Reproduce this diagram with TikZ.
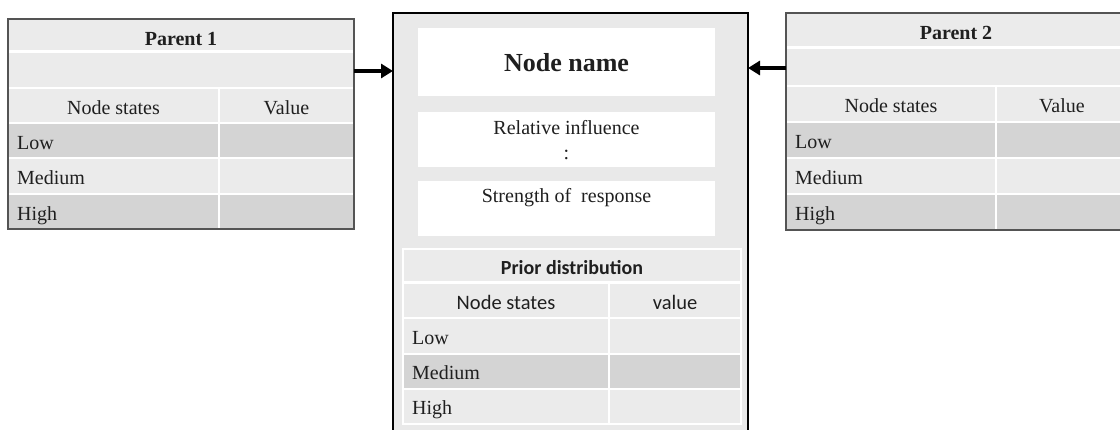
\documentclass[tikz,border=0pt]{standalone}
\usepackage{fontspec}
\setmainfont{Liberation Serif}
\newfontfamily\calib{Carlito}
\usetikzlibrary{arrows.meta,calc}
\definecolor{lg}{gray}{0.922}
\definecolor{dg}{gray}{0.83}
\definecolor{bgc}{gray}{0.915}
\definecolor{ink}{gray}{0.12}
\definecolor{pb}{gray}{0.33}
\newcommand\tcell[6]{\node[cell,fill=#6,minimum width={(#4)-(#2)},minimum height={(#5)-(#3)},anchor=north west] (#1) at (#2,#3) {};}
\begin{document}
\begin{tikzpicture}[x=1pt,y=-1pt,
  cell/.style={draw=white,line width=1.6pt,inner sep=0pt,outer sep=0pt},
  wbox/.style={fill=white,draw=none,inner sep=0pt,outer sep=0pt,anchor=north west},
  txt/.style={text=ink,inner sep=0pt,anchor=base,font=\fontsize{20}{24}\selectfont},
  ltxt/.style={txt,anchor=base west},
  btxt/.style={txt,font=\fontsize{20}{24}\selectfont\bfseries},
  stxt/.style={txt,font=\fontsize{20.5}{24}\selectfont\calib},
  sbtxt/.style={txt,font=\fontsize{20}{24}\selectfont\calib\bfseries},
  pbox/.style={draw=pb,line width=1.5pt,fill=none,inner sep=0pt,outer sep=0pt,anchor=north west},
  arr/.style={line width=4.5pt,-{Triangle[length=12pt,width=14pt]}}]
\useasboundingbox (0,0) rectangle (1120,430);
\clip (0,0) rectangle (1120,430);

% ---------- Parent 1 ----------
\tcell{p1t}{8}{19}{354}{52}{lg}
\tcell{p1e}{8}{52}{354}{88}{lg}
\tcell{p1sa}{8}{88}{219}{123}{lg}
\tcell{p1sb}{219}{88}{354}{123}{lg}
\tcell{p1la}{8}{123}{219}{158}{dg}
\tcell{p1lb}{219}{123}{354}{158}{dg}
\tcell{p1ma}{8}{158}{219}{194}{lg}
\tcell{p1mb}{219}{158}{354}{194}{lg}
\tcell{p1ha}{8}{194}{219}{229}{dg}
\tcell{p1hb}{219}{194}{354}{229}{dg}
\draw[white,line width=3pt] (p1t.south west) -- (p1t.south east);
\node[pbox,minimum width=346pt,minimum height=210pt] (P1) at (8,19) {};
\node[btxt] (p1tt) at ($(p1t.north)+(0,27)$) {Parent 1};
\node[txt] (p1st) at ($(p1sa.north)+(0,27)$) {Node states};
\node[txt] (p1vt) at ($(p1sb.north)+(0,27)$) {Value};
\node[ltxt] (p1lt) at ($(p1la.north west)+(9,27)$) {Low};
\node[ltxt] (p1mt) at ($(p1ma.north west)+(9,27)$) {Medium};
\node[ltxt] (p1ht) at ($(p1ha.north west)+(9,27)$) {High};

% ---------- Parent 2 ----------
\tcell{p2t}{786}{13}{1124}{48}{lg}
\tcell{p2e}{786}{48}{1124}{86}{lg}
\tcell{p2sa}{786}{86}{996}{122}{lg}
\tcell{p2sb}{996}{86}{1124}{122}{lg}
\tcell{p2la}{786}{122}{996}{158}{dg}
\tcell{p2lb}{996}{122}{1124}{158}{dg}
\tcell{p2ma}{786}{158}{996}{194}{lg}
\tcell{p2mb}{996}{158}{1124}{194}{lg}
\tcell{p2ha}{786}{194}{996}{230}{dg}
\tcell{p2hb}{996}{194}{1124}{230}{dg}
\draw[white,line width=3pt] (p2t.south west) -- (p2t.south east);
\node[pbox,minimum width=338pt,minimum height=217pt] (P2) at (786,13) {};
\node[btxt] (p2tt) at (956,40) {Parent 2};
\node[txt] (p2st) at ($(p2sa.north)+(0,27)$) {Node states};
\node[txt] (p2vt) at (1062,113) {Value};
\node[ltxt] (p2lt) at ($(p2la.north west)+(9,27)$) {Low};
\node[ltxt] (p2mt) at ($(p2ma.north west)+(9,27)$) {Medium};
\node[ltxt] (p2ht) at ($(p2ha.north west)+(9,27)$) {High};

% ---------- Central node ----------
\node[draw=black,fill=bgc,line width=2.6pt,inner sep=0pt,outer sep=0pt,anchor=north west,
      minimum width=355pt,minimum height=430pt] (C) at (393,13) {};
\node[wbox,minimum width=297pt,minimum height=68pt] (nn) at (418,28) {};
\node[wbox,minimum width=297pt,minimum height=55pt] (ri) at (418,112) {};
\node[wbox,minimum width=297pt,minimum height=55pt] (sr) at (418,181) {};
\node[txt,font=\fontsize{26}{30}\selectfont\bfseries] (nnt) at (566.5,72) {Node name};
\node[txt] (rit) at (566.5,135) {Relative influence};
\node[txt] (ric) at (566.5,160) {:};
\node[txt] (srt) at (566.5,203) {Strength of \ response};

% prior distribution table
\tcell{pdt}{403}{249}{741}{283}{lg}
\tcell{pdsa}{403}{283}{609}{318}{lg}
\tcell{pdsb}{609}{283}{741}{318}{lg}
\tcell{pdla}{403}{318}{609}{354}{lg}
\tcell{pdlb}{609}{318}{741}{354}{lg}
\tcell{pdma}{403}{354}{609}{389}{dg}
\tcell{pdmb}{609}{354}{741}{389}{dg}
\tcell{pdha}{403}{389}{609}{424}{lg}
\tcell{pdhb}{609}{389}{741}{424}{lg}
\draw[white,line width=3pt] (pdt.south west) -- (pdt.south east);
\node[sbtxt] (pdtt) at ($(pdt.north)+(0,26)$) {Prior distribution};
\node[stxt] (pdst) at ($(pdsa.north)+(0,27)$) {Node states};
\node[stxt] (pdvt) at ($(pdsb.north)+(0,27)$) {value};
\node[ltxt] (pdlt) at ($(pdla.north west)+(9,27)$) {Low};
\node[ltxt] (pdmt) at ($(pdma.north west)+(9,26)$) {Medium};
\node[ltxt] (pdht) at ($(pdha.north west)+(9,26)$) {High};

% ---------- arrows ----------
\coordinate (a1) at (354,71);
\coordinate (a2) at (786,68);
\draw[arr] (a1) -- (a1 -| C.west);
\draw[arr] (a2) -- (a2 -| C.east);
\end{tikzpicture}
\end{document}
